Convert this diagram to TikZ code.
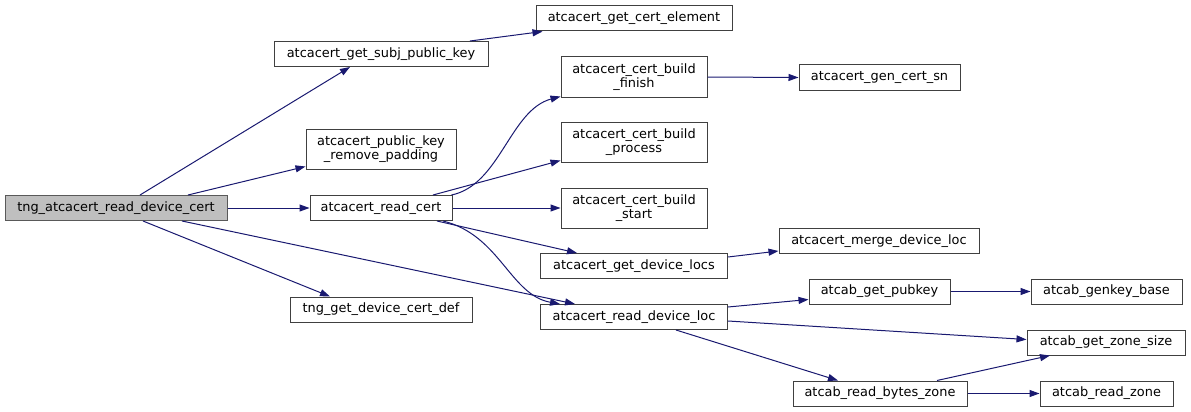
\documentclass[tikz,border=0pt]{standalone}
\usepackage{fontspec}
\setmainfont{DejaVu Sans}
\usepackage{tikz}
\usetikzlibrary{arrows.meta,positioning}
\definecolor{edgeblue}{HTML}{191970}
\definecolor{rootgray}{HTML}{BFBFBF}
\definecolor{boxline}{HTML}{404040}

\begin{document}
\begin{tikzpicture}[
  x=1pt,y=-1pt,
  box/.style={draw=boxline,fill=white,line width=1pt,minimum height=25pt,inner sep=0pt,
              align=center,font=\fontsize{12.9}{14.5}\selectfont},
  twoline/.style={box,minimum height=40pt},
  arrow/.style={-{Triangle[length=10pt,width=7pt]},line width=1pt,draw=edgeblue}
]
\useasboundingbox (0,0) rectangle (1191,412);
% column 1
\node[box,fill=rootgray,draw=gray!70!black,minimum width=222pt] (root) at (116,208) {tng\_atcacert\_read\_device\_cert};
% column 2
\node[box,minimum width=214pt] (subj) at (381,54) {atcacert\_get\_subj\_public\_key};
\node[twoline,minimum width=150pt] (pad) at (381,149) {atcacert\_public\_key\\\_remove\_padding};
\node[box,minimum width=142pt] (readcert) at (381,208) {atcacert\_read\_cert};
\node[box,minimum width=182pt] (certdef) at (381,309.5) {tng\_get\_device\_cert\_def};
% column 3
\node[box,minimum width=196pt] (element) at (634,18.5) {atcacert\_get\_cert\_element};
\node[twoline,minimum width=146pt] (finish) at (634,77) {atcacert\_cert\_build\\\_finish};
\node[twoline,minimum width=146pt] (process) at (634,142) {atcacert\_cert\_build\\\_process};
\node[twoline,minimum width=146pt] (start) at (634,208) {atcacert\_cert\_build\\\_start};
\node[box,minimum width=187pt] (locs) at (634,266) {atcacert\_get\_device\_locs};
\node[box,minimum width=187pt] (devloc) at (634,317) {atcacert\_read\_device\_loc};
% column 4
\node[box,minimum width=161pt] (certsn) at (879.5,77.5) {atcacert\_gen\_cert\_sn};
\node[box,minimum width=200pt] (merge) at (879,241) {atcacert\_merge\_device\_loc};
\node[box,minimum width=141pt] (pubkey) at (879.5,291.5) {atcab\_get\_pubkey};
\node[box,minimum width=174pt] (bytes) at (880,393.5) {atcab\_read\_bytes\_zone};
% column 5
\node[box,minimum width=151pt] (genkey) at (1106.5,291.5) {atcab\_genkey\_base};
\node[box,minimum width=158pt] (zonesize) at (1106,342.5) {atcab\_get\_zone\_size};
\node[box,minimum width=133pt] (readzone) at (1106.5,393.5) {atcab\_read\_zone};
% edges
\draw[arrow] ([xshift=24pt]root.north) -- ([xshift=-31pt]subj.south);
\draw[arrow] ([xshift=72pt]root.north) -- ([yshift=3pt]pad.south west);
\draw[arrow] (root.east) -- (readcert.west);
\draw[arrow] ([xshift=27pt]root.south) -- ([xshift=-51pt]certdef.north);
\draw[arrow] ([xshift=66pt]root.south) -- ([xshift=-59pt]devloc.north);
\draw[arrow] ([xshift=89pt]subj.north) -- ([xshift=7pt]element.south west);
\draw[arrow] ([xshift=-1pt]readcert.north east) .. controls (500,185) and (510,110) .. ([yshift=1pt]finish.south west);
\draw[arrow] ([xshift=52pt]readcert.north) -- ([yshift=2pt]process.south west);
\draw[arrow] (readcert.east) -- (start.west);
\draw[arrow] ([xshift=56pt]readcert.south) -- ([xshift=-57pt]locs.north);
\draw[arrow] ([xshift=62pt]readcert.south) .. controls (500,235) and (510,295) .. ([xshift=-74pt]devloc.north);
\draw[arrow] (finish.east) -- (certsn.west);
\draw[arrow] ([yshift=-4pt]locs.north east) -- ([yshift=3pt]merge.south west);
\draw[arrow] ([yshift=-3pt]devloc.north east) -- ([yshift=5pt]pubkey.south west);
\draw[arrow] ([yshift=-4pt]devloc.east) -- ([yshift=3pt]zonesize.west);
\draw[arrow] ([xshift=42pt]devloc.south) -- ([xshift=-42pt]bytes.north);
\draw[arrow] (pubkey.east) -- (genkey.west);
\draw[arrow] ([xshift=57pt]bytes.north) -- ([xshift=-56pt]zonesize.south);
\draw[arrow] (bytes.east) -- (readzone.west);
\end{tikzpicture}
\end{document}
